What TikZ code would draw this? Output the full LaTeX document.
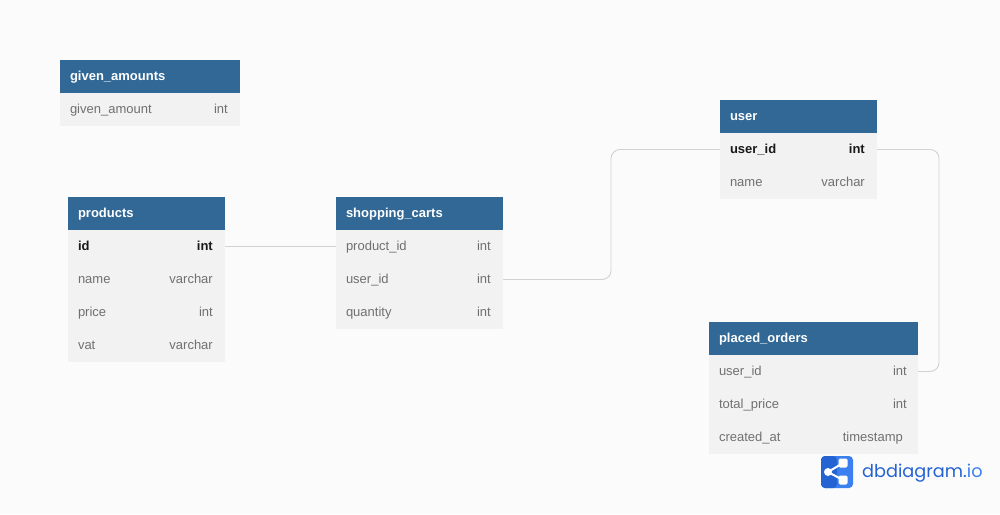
\documentclass[tikz,border=0pt]{standalone}
\usepackage{fontspec}
\setmainfont{Liberation Sans}
\newfontfamily\logofont{Poppins}
\usetikzlibrary{positioning}

\definecolor{pagebg}{HTML}{FBFBFB}
\definecolor{headblue}{HTML}{316896}
\definecolor{rowgray}{HTML}{F2F2F2}
\definecolor{rowtext}{HTML}{707070}
\definecolor{linkgray}{HTML}{D2D2D2}
\definecolor{logodark}{HTML}{2563D2}
\definecolor{logolight}{HTML}{3B80EE}

\begin{document}
\begin{tikzpicture}[
	x=1pt, y=-1pt,
	basic/.style    = {rectangle, inner sep=0pt, outer sep=0pt, inner xsep=10pt, text height=11.3pt, text depth=2.7pt, minimum height=33pt, align=left, font=\fontsize{13}{15}\selectfont},
	head/.style     = {basic, anchor=north west, fill=headblue, text=white, font=\fontsize{13}{15}\selectfont\bfseries},
	row/.style      = {basic, fill=rowgray, text=rowtext},
	key/.style      = {row, text=black!90, font=\fontsize{13}{15}\selectfont\bfseries},
	type/.style     = {inner sep=0pt, text=rowtext, text height=11.3pt, text depth=2.7pt, font=\fontsize{13}{15}\selectfont},
	keytype/.style  = {type, text=black!90, font=\fontsize{13}{15}\selectfont\bfseries},
	link/.style     = {draw=linkgray, line width=0.9pt, rounded corners=9pt}]

	\useasboundingbox[fill=pagebg] (0,0) rectangle (1000,514);

	% given_amounts
	\node[head, text width=160pt] (given) at (60,60) {given\_amounts};
	\node[row, text width=160pt, below=0pt of given] (givenAmount) {given\_amount};
	\node[type, left=12pt of givenAmount.east] (givenAmountT) {int};

	% products
	\node[head, text width=137pt] (products) at (68,197) {products};
	\node[key, text width=137pt, below=0pt of products] (prodId) {id};
	\node[row, text width=137pt, below=0pt of prodId] (prodName) {name};
	\node[row, text width=137pt, below=0pt of prodName] (prodPrice) {price};
	\node[row, text width=137pt, below=0pt of prodPrice] (prodVat) {vat};
	\node[keytype, left=12pt of prodId.east] (prodIdT) {int};
	\node[type, left=12pt of prodName.east] (prodNameT) {varchar};
	\node[type, left=12pt of prodPrice.east] (prodPriceT) {int};
	\node[type, left=12pt of prodVat.east] (prodVatT) {varchar};

	% shopping_carts
	\node[head, text width=147pt] (carts) at (336,197) {shopping\_carts};
	\node[row, text width=147pt, below=0pt of carts] (cartProd) {product\_id};
	\node[row, text width=147pt, below=0pt of cartProd] (cartUser) {user\_id};
	\node[row, text width=147pt, below=0pt of cartUser] (cartQty) {quantity};
	\node[type, left=12pt of cartProd.east] (cartProdT) {int};
	\node[type, left=12pt of cartUser.east] (cartUserT) {int};
	\node[type, left=12pt of cartQty.east] (cartQtyT) {int};

	% user
	\node[head, text width=137pt] (user) at (720,100) {user};
	\node[key, text width=137pt, below=0pt of user] (userId) {user\_id};
	\node[row, text width=137pt, below=0pt of userId] (userName) {name};
	\node[keytype, left=12pt of userId.east] (userIdT) {int};
	\node[type, left=12pt of userName.east] (userNameT) {varchar};

	% placed_orders
	\node[head, text width=189pt] (orders) at (709,322) {placed\_orders};
	\node[row, text width=189pt, below=0pt of orders] (orderUser) {user\_id};
	\node[row, text width=189pt, below=0pt of orderUser] (orderTotal) {total\_price};
	\node[row, text width=189pt, below=0pt of orderTotal] (orderDate) {created\_at};
	\node[type, left=11pt of orderUser.east] (orderUserT) {int};
	\node[type, left=11pt of orderTotal.east] (orderTotalT) {int};
	\node[type, left=15pt of orderDate.east] (orderDateT) {timestamp};

	% links between the tables
	\coordinate (bendCart) at (611,215);
	\coordinate (bendUser) at (939,260);
	\draw[link] (prodId.east) -- (cartProd.west);
	\draw[link] (cartUser.east) -| (bendCart) |- (userId.west);
	\draw[link] (userId.east) -| (bendUser) |- (orderUser.east);

	% logo
	\fill[logolight, rounded corners=4pt] (821,456) rectangle (853,488);
	\fill[logodark, rounded corners=4pt] (821,456) -- (837,456) -- (837,488) -- (821,488) -- cycle;
	\draw[white, line width=2pt] (843,463) -- (828,472) -- (843,480);
	\fill[white] (828,472) circle (4pt);
	\fill[white, rounded corners=1.5pt] (838.5,458.5) rectangle (847.5,467.5);
	\fill[white, rounded corners=1.5pt] (838.5,475.5) rectangle (847.5,484.5);
	\node[inner sep=0pt, anchor=west, text=logodark, font=\logofont\fontsize{17.7}{22}\selectfont] (logoText) at (862,473) {dbdiagram.{\color{logolight}io}};
\end{tikzpicture}
\end{document}
